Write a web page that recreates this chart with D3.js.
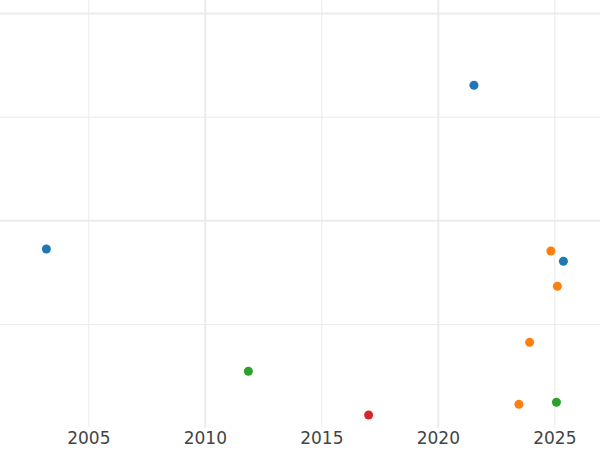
<!DOCTYPE html>
<html>
<head>
<meta charset="utf-8">
<script src="https://cdn.jsdelivr.net/npm/d3@7"></script>
<style>
  html, body { margin: 0; padding: 0; background: #fff; }
  svg { display: block; }
</style>
</head>
<body>
<svg id="chart" width="600" height="450"></svg>
<script>
// ---- data ----
const years   = [2021.55, 2003.20, 2024.85, 2025.39, 2025.13, 2023.94, 2011.87, 2017.03, 2023.48, 2025.09];
const values  = [3.303, 1.724, 1.704, 1.605, 1.364, 0.823, 0.544, 0.122, 0.225, 0.245];
const groups  = ["A", "A", "B", "A", "B", "B", "C", "D", "B", "C"];
const groupNames  = ["A", "B", "C", "D"];
const groupColors = ["#1f77b4", "#ff7f0e", "#2ca02c", "#d62728"];
const xTickYears  = [2005, 2010, 2015, 2020, 2025];
const xMajorYears = [2010, 2020];
const xMinorYears = [2005, 2015, 2025];
const yMajorVals  = [2, 4];
const yMinorVals  = [1, 3];

// ---- layout ----
const W = 600, H = 450;
const plotTop = 0, plotBottom = 427.65, plotLeft = 0, plotRight = 600;

const x = d3.scaleLinear().domain([2001.21, 2026.96]).range([plotLeft, plotRight]);
const y = d3.scaleLinear().domain([0, 4.1259]).range([plotBottom, plotTop]);
const color = d3.scaleOrdinal().domain(groupNames).range(groupColors);

const svg = d3.select("#chart");

svg.append("defs").append("clipPath").attr("id", "plotclip")
  .append("rect").attr("x", plotLeft).attr("y", plotTop)
  .attr("width", plotRight - plotLeft).attr("height", plotBottom - plotTop);

const grid = svg.append("g").attr("clip-path", "url(#plotclip)");

function gridAxisX(vals, sw) {
  const g = grid.append("g")
    .attr("transform", `translate(0,${plotBottom})`)
    .call(d3.axisBottom(x).tickValues(vals).tickSize(-(plotBottom - plotTop)).tickFormat(""));
  g.select(".domain").remove();
  g.selectAll(".tick line").attr("stroke", "#ebebeb").attr("stroke-width", sw);
}
function gridAxisY(vals, sw) {
  const g = grid.append("g")
    .attr("transform", `translate(${plotLeft},0)`)
    .call(d3.axisLeft(y).tickValues(vals).tickSize(-(plotRight - plotLeft)).tickFormat(""));
  g.select(".domain").remove();
  g.selectAll(".tick line").attr("stroke", "#ebebeb").attr("stroke-width", sw);
}
gridAxisY(yMinorVals, 1);
gridAxisY(yMajorVals, 2);
gridAxisX(xMinorYears, 1);
gridAxisX(xMajorYears, 2);

// x axis labels
const xa = svg.append("g")
  .attr("transform", `translate(0,${plotBottom})`)
  .call(d3.axisBottom(x).tickValues(xTickYears).tickSize(0).tickPadding(4).tickFormat(d3.format("d")));
xa.select(".domain").remove();
xa.selectAll("text")
  .attr("font-family", "DejaVu Sans, sans-serif")
  .attr("font-size", 17)
  .attr("fill", "#444");

// points
const pts = years.map((yr, i) => ({ yr, v: values[i], g: groups[i] }));
svg.append("g").attr("clip-path", "url(#plotclip)")
  .selectAll("circle").data(pts).join("circle")
  .attr("cx", d => x(d.yr))
  .attr("cy", d => y(d.v))
  .attr("r", 4.5)
  .attr("fill", d => color(d.g));
</script>
</body>
</html>
